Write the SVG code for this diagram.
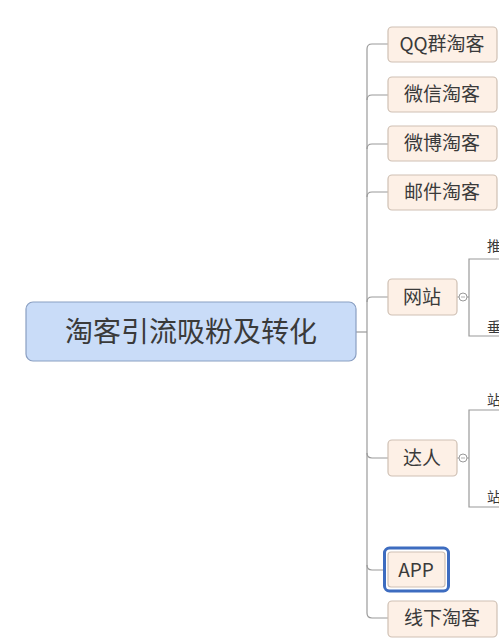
<svg xmlns="http://www.w3.org/2000/svg" width="499" height="641" viewBox="0 0 499 641">
<style>
.conn{fill:none;stroke:#9a9a9a;stroke-width:1.2}
.child rect{fill:#fdf0e6;stroke:#cfc0b4;stroke-width:1.2}
.t{font-family:"Noto Sans CJK SC","Liberation Serif",serif;fill:#3a3a3a}
.ct{font-size:19px;text-anchor:middle}
.st{font-size:14px}
.coll{fill:#fff;stroke:#9a9a9a;stroke-width:1}
</style>
<rect width="499" height="641" fill="#ffffff"/>
<g id="connectors">
<path class="conn" d="M356,332 H367"/>
<path class="conn" d="M367,613 V49"/>
<path class="conn" d="M367,49 Q367,44 372,44 H388"/>
<path class="conn" d="M367,100 Q367,95 372,95 H388"/>
<path class="conn" d="M367,149 Q367,144 372,144 H388"/>
<path class="conn" d="M367,197 Q367,192 372,192 H388"/>
<path class="conn" d="M367,302 Q367,297 372,297 H388"/>
<path class="conn" d="M367,453 Q367,458 372,458 H388"/>
<path class="conn" d="M367,565 Q367,570 372,570 H383"/>
<path class="conn" d="M367,613 Q367,618 372,618 H388"/>
<path class="conn" d="M457,297 H459"/>
<path class="conn" d="M467,297 H469 M499,259 H469 V336 H499"/>
<path class="conn" d="M457,458 H459"/>
<path class="conn" d="M467,458 H469 M499,410 H469 V507 H499"/>
</g>
<g id="root">
<rect x="26" y="302" width="330" height="59" rx="7" fill="#c9dcf8" stroke="#8a9fc2" stroke-width="1.2"/>
<text class="t" x="191" y="342" font-size="28" text-anchor="middle">淘客引流吸粉及转化</text>
</g>
<g id="n-qq" class="child"><rect x="388" y="27" width="109" height="35" rx="4"/><text class="t ct" x="442" y="51">QQ群淘客</text></g>
<g id="n-weixin" class="child"><rect x="388" y="77" width="109" height="35" rx="4"/><text class="t ct" x="442" y="101">微信淘客</text></g>
<g id="n-weibo" class="child"><rect x="388" y="126" width="109" height="35" rx="4"/><text class="t ct" x="442" y="150">微博淘客</text></g>
<g id="n-mail" class="child"><rect x="388" y="175" width="109" height="35" rx="4"/><text class="t ct" x="442" y="199">邮件淘客</text></g>
<g id="n-site" class="child"><rect x="388" y="279" width="69" height="36" rx="4"/><text class="t ct" x="422" y="304">网站</text><circle class="coll" cx="463" cy="297" r="4"/><path d="M461,297 H465" stroke="#9a9a9a" stroke-width="0.8"/></g>
<g id="n-site-a"><text class="t st" x="487" y="251">推</text></g>
<g id="n-site-b"><text class="t st" x="487" y="332">垂</text></g>
<g id="n-daren" class="child"><rect x="388" y="440" width="69" height="36" rx="4"/><text class="t ct" x="422" y="465">达人</text><circle class="coll" cx="463" cy="458" r="4"/><path d="M461,458 H465" stroke="#9a9a9a" stroke-width="0.8"/></g>
<g id="n-daren-a"><text class="t st" x="487" y="405">站</text></g>
<g id="n-daren-b"><text class="t st" x="487" y="502">站</text></g>
<g id="n-app" class="child"><rect x="384.5" y="548" width="64" height="43" rx="5" fill="none" stroke="#3d6cc0" stroke-width="3" style="fill:none;stroke:#3d6cc0;stroke-width:3"/><rect x="388" y="552" width="57" height="35" rx="3"/><text class="t ct" x="416" y="577">APP</text></g>
<g id="n-offline" class="child"><rect x="388" y="601" width="109" height="36" rx="4"/><text class="t ct" x="442" y="625">线下淘客</text></g>
</svg>
